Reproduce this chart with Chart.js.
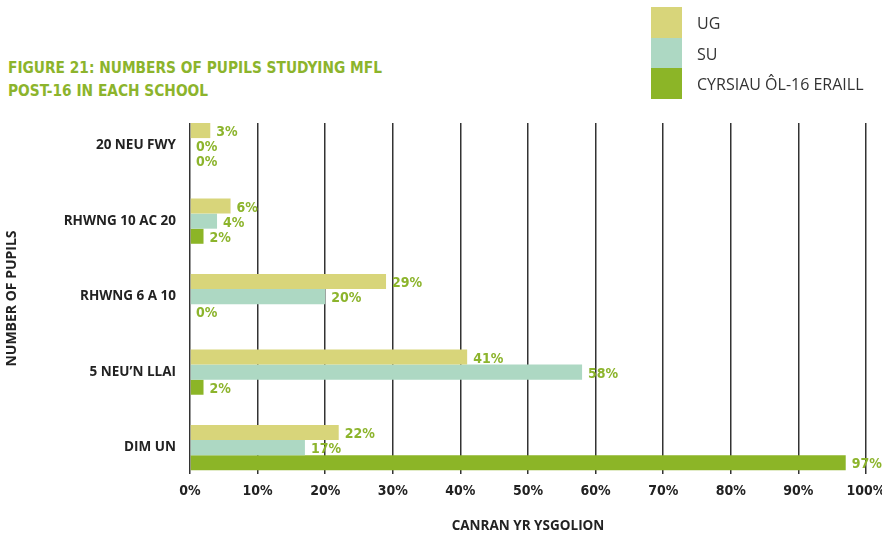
<!DOCTYPE html>
<html>
  <head>
    <title>Figure 21</title>
    <script src="https://cdn.jsdelivr.net/npm/chart.js"></script>
    <style>
      body {
        margin: 0;
        width: 882px;
        height: 535px;
        position: relative;
        background: #fff;
        overflow: hidden;
      }

      .title {
        position: absolute;
        left: 8px;
        top: 57px;
        font-family: "DejaVu Sans Condensed", sans-serif;
        font-weight: bold;
        font-size: 15.3px;
        line-height: 23px;
        color: #8cb42c;
      }

      .legend {
        position: absolute;
        left: 651px;
        top: 7px;
        font-family: "Open Sans", sans-serif;
        font-size: 16px;
        color: #333;
      }

      .legend-item {
        display: flex;
        align-items: center;
        height: 30.5px;
      }

      .legend-box {
        width: 31px;
        height: 30.5px;
        margin-right: 15px;
      }

      .legend-item span {
        padding-top: 2px;
      }

      .chart-container {
        position: absolute;
        left: 0;
        top: 0;
        width: 882px;
        height: 535px;
      }
    </style>
  </head>
  <body>
    <div class="title">FIGURE 21: NUMBERS OF PUPILS STUDYING MFL<br />POST-16 IN EACH SCHOOL</div>
    <div class="chart-container">
      <canvas id="myChart"></canvas>
    </div>
    <div class="legend" id="legend"></div>

    <script>
      // categories, top to bottom
      const categories = ["20 NEU FWY", "RHWNG 10 AC 20", "RHWNG 6 A 10", "5 NEU\u2019N LLAI", "DIM UN"];
      const seriesNames = ["UG", "SU", "CYRSIAU \u00d4L-16 ERAILL"];
      const ugValues = [3, 6, 29, 41, 22];
      const suValues = [0, 4, 20, 58, 17];
      const otherValues = [0, 2, 0, 2, 97];
      const xTicks = [0, 10, 20, 30, 40, 50, 60, 70, 80, 90, 100];
      const colors = ["#d8d57a", "#add8c3", "#8cb527"];

      const valueSets = [ugValues, suValues, otherValues];
      const datasets = valueSets.map((vals, i) => ({
        label: seriesNames[i],
        data: vals.map((v, j) => ({ x: v, y: j })),
        backgroundColor: colors[i],
        borderWidth: 0,
        barPercentage: 1,
        categoryPercentage: 0.6,
      }));

      // legend
      const legend = document.getElementById("legend");
      seriesNames.forEach((name, i) => {
        const item = document.createElement("div");
        item.className = "legend-item";
        item.innerHTML = '<div class="legend-box" style="background:' + colors[i] + '"></div><span>' + name + "</span>";
        legend.appendChild(item);
      });

      // value labels at end of each bar
      const valueLabels = {
        id: "valueLabels",
        afterDatasetsDraw(chart) {
          const ctx = chart.ctx;
          ctx.save();
          ctx.font = "bold 14px 'DejaVu Sans Condensed', sans-serif";
          ctx.fillStyle = "#8cb42c";
          ctx.textBaseline = "middle";
          ctx.textAlign = "left";
          chart.data.datasets.forEach((ds, i) => {
            const meta = chart.getDatasetMeta(i);
            meta.data.forEach((bar, j) => {
              ctx.fillText(valueSets[i][j] + "%", bar.x + 6, bar.y + 2);
            });
          });
          ctx.restore();
        },
      };

      const tickFont = { family: "'DejaVu Sans Condensed', sans-serif", weight: "bold", size: 14 };
      const catFont = { family: "'Open Sans', sans-serif", weight: "bold", size: 13.5 };

      const ctx = document.getElementById("myChart").getContext("2d");
      new Chart(ctx, {
        type: "bar",
        data: { datasets: datasets },
        plugins: [valueLabels],
        options: {
          indexAxis: "y",
          responsive: true,
          maintainAspectRatio: false,
          animation: false,
          layout: { padding: { top: 123, right: 0, left: 0, bottom: 0 } },
          plugins: {
            legend: { display: false },
            tooltip: { enabled: false },
          },
          scales: {
            x: {
              type: "linear",
              min: 0,
              max: 100,
              afterBuildTicks: (axis) => {
                axis.ticks = xTicks.map((v) => ({ value: v }));
              },
              afterFit: (axis) => {
                axis.height = 61;
                axis.paddingLeft = 0;
                axis.paddingRight = 16;
              },
              grid: { color: "#333", lineWidth: 1.5, drawTicks: false },
              border: { display: false },
              ticks: {
                padding: 9,
                color: "#222",
                font: tickFont,
                maxRotation: 0,
                callback: (v) => v + "%",
              },
              title: {
                display: true,
                text: "CANRAN YR YSGOLION",
                color: "#222",
                font: { family: "'Open Sans', sans-serif", weight: "bold", size: 13.5 },
                padding: { top: 0, bottom: 1 },
              },
            },
            y: {
              type: "linear",
              reverse: true,
              offset: false,
              min: -0.3,
              max: 4.35,
              afterBuildTicks: (axis) => {
                axis.ticks = categories.map((c, i) => ({ value: i }));
              },
              afterFit: (axis) => {
                axis.width = 190;
              },
              grid: { display: false, drawTicks: false, offset: false },
              border: { display: false },
              ticks: {
                padding: 14,
                color: "#222",
                font: catFont,
                callback: (v) => categories[v],
              },
              title: {
                display: true,
                text: "NUMBER OF PUPILS",
                color: "#222",
                font: { family: "'Open Sans', sans-serif", weight: "bold", size: 14 },
                padding: { top: 4, bottom: 0 },
              },
            },
          },
        },
      });
    </script>
  </body>
</html>
